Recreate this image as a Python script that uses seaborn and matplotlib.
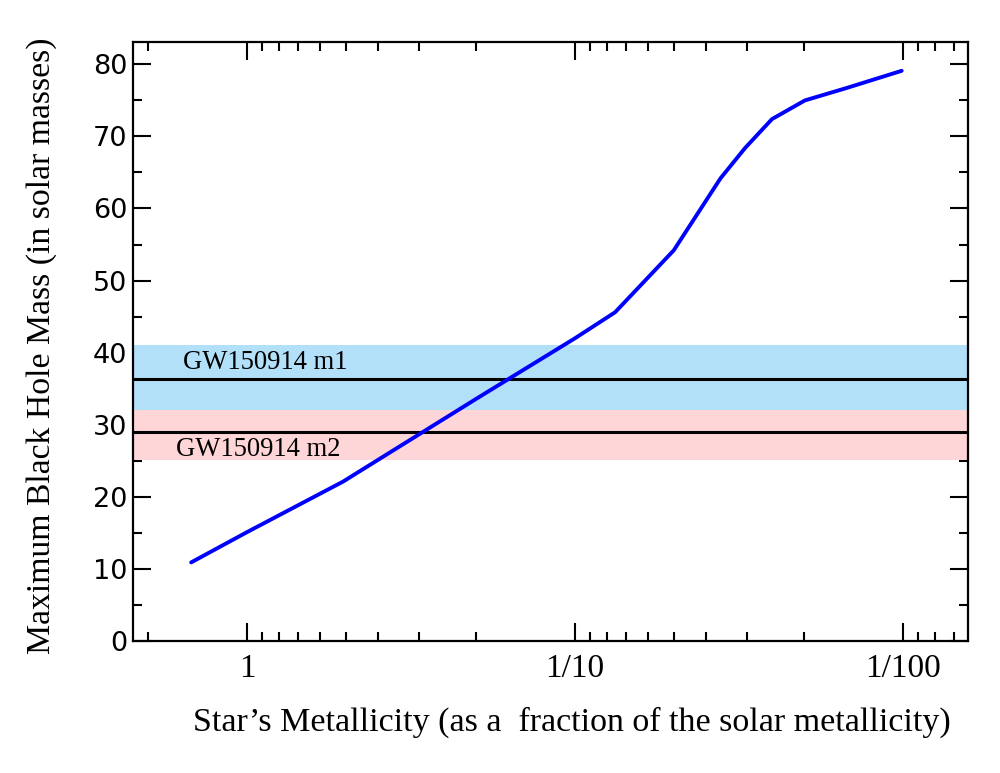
#Maximum black hole mass against star metallicity, with the GW150914 masses as bands
import numpy as np
import pandas as pd
from matplotlib import pyplot as plt
from matplotlib import ticker
import seaborn as sns

#metallicity as a fraction of solar, and the maximum black hole mass
metallicity = [1.48, 1.0, 0.51, 0.2, 0.1, 0.0755, 0.05, 0.036, 0.0303, 0.0251, 0.0199, 0.0149, 0.0101]
max_mass = [10.9, 15.1, 22.1, 33.6, 42.0, 45.6, 54.2, 64.2, 68.4, 72.4, 75.0, 76.7, 79.1]

#GW150914 component masses and the shaded ranges
m1_mass = 36.3
m1_range = (32.0, 41.0)
m2_mass = 29.0
m2_range = (25.1, 32.0)

x_ticks = [1, 0.1, 0.01]
x_tick_labels = ["1", "1/10", "1/100"]
y_ticks = [0, 10, 20, 30, 40, 50, 60, 70, 80]

df = pd.DataFrame({'metallicity': metallicity, 'mass': max_mass})

sns.set_theme(style="ticks")
plt.rcParams['font.family'] = ['DejaVu Sans']
plt.rcParams.update({'text.color': 'black', 'xtick.color': 'black', 'ytick.color': 'black',
                     'axes.labelcolor': 'black', 'axes.edgecolor': 'black'})
serif = ['Liberation Serif', 'DejaVu Serif']

fig = plt.figure(figsize=(10, 7.73), dpi=100)
ax = fig.add_axes([0.133, 0.1708, 0.835, 0.7749])

#bands first so the curve sits on top
ax.axhspan(*m1_range, color='#b3e0f9', lw=0, zorder=1)
ax.axhspan(*m2_range, color='#ffd6d8', lw=0, zorder=1)
ax.axhline(m1_mass, color='black', lw=2.2, zorder=2)
ax.axhline(m2_mass, color='black', lw=2.2, zorder=2)

sns.lineplot(data=df, x='metallicity', y='mass', color='#0000ff', lw=2.8, ax=ax, zorder=3)

ax.set_xscale('log')
ax.set_xlim(2.226, 0.00634) #reversed so metallicity drops to the right
ax.set_ylim(0, 83.1)

ax.set_xticks(x_ticks)
ax.set_xticklabels(x_tick_labels, fontfamily=serif, fontsize=24)
ax.xaxis.set_minor_locator(ticker.LogLocator(base=10, subs=np.arange(2, 10)))
ax.xaxis.set_minor_formatter(ticker.NullFormatter())
ax.set_yticks(y_ticks)
ax.yaxis.set_minor_locator(ticker.MultipleLocator(5))
ax.tick_params(axis='y', labelsize=19.5)

ax.tick_params(which='both', direction='in', top=True, right=True, width=1.5, color='black')
ax.tick_params(which='major', length=13)
ax.tick_params(which='minor', length=6.5)
ax.tick_params(axis='x', which='major', pad=9)
ax.tick_params(axis='y', which='major', pad=4)
for s in ax.spines.values():
    s.set_linewidth(1.6)

ax.set_xlabel('')
ax.set_ylabel('')

ax.text(1.567, 38.7, 'GW150914 m1', fontfamily=serif, fontsize=19.2, va='center', ha='left', zorder=4)
ax.text(1.646, 26.5, 'GW150914 m2', fontfamily=serif, fontsize=19.2, va='center', ha='left', zorder=4)

fig.text(0.572, 0.066, 'Star\u2019s Metallicity (as a  fraction of the solar metallicity)',
         fontfamily=serif, fontsize=24.5, ha='center', va='center')
fig.text(0.042, 0.553, 'Maximum Black Hole Mass (in solar masses)',
         fontfamily=serif, fontsize=24.3, ha='center', va='center', rotation=90)

fig.savefig('out.png', dpi=100, facecolor='white')
